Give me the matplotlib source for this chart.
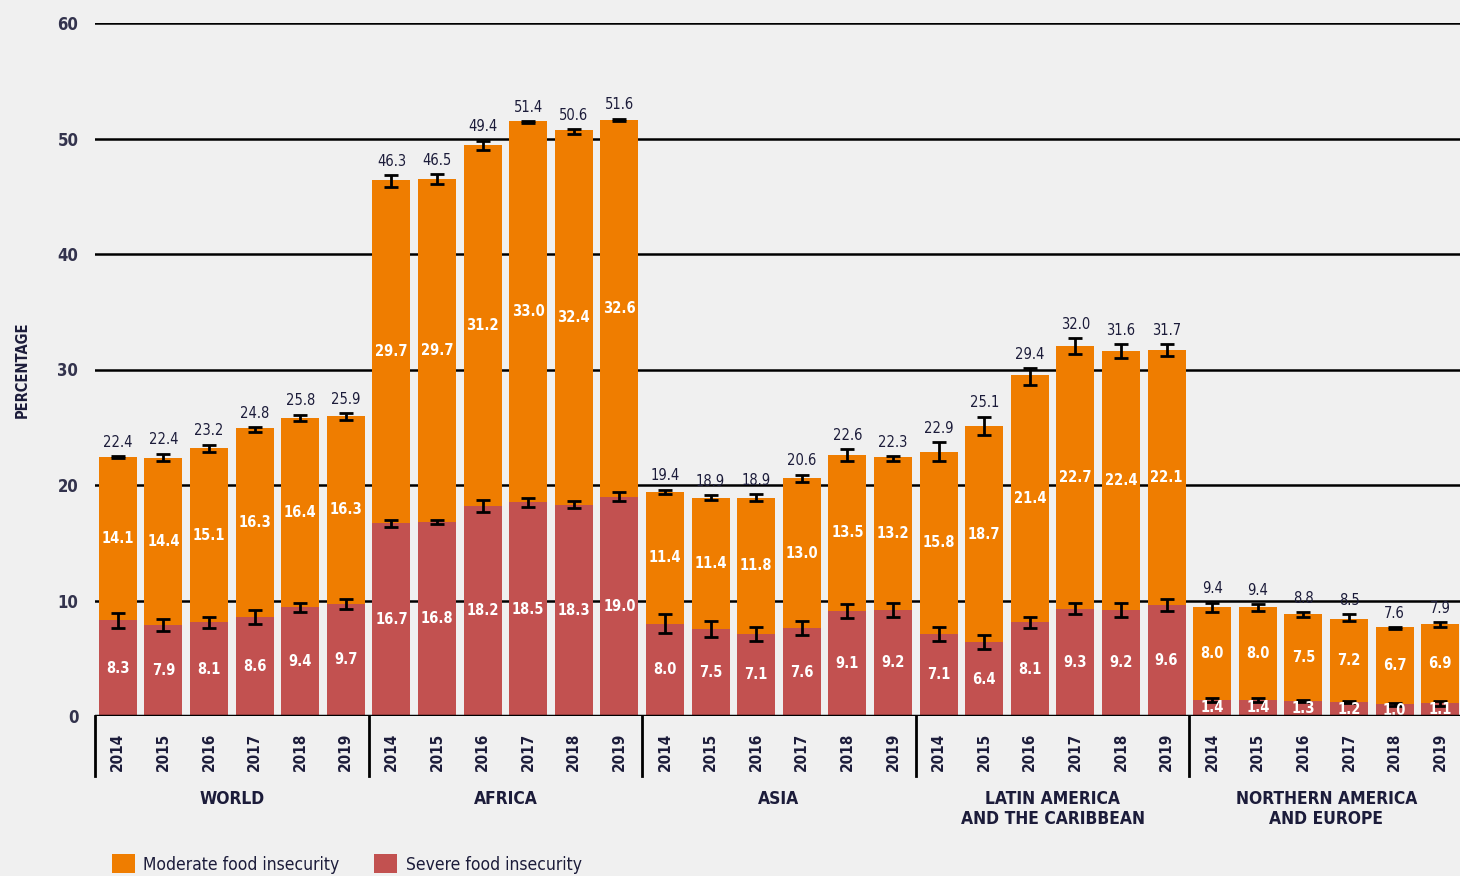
import numpy as np
import matplotlib
matplotlib.use("Agg")
import matplotlib.pyplot as plt
from matplotlib.patches import Patch

regions = ["WORLD", "AFRICA", "ASIA", "LATIN AMERICA\nAND THE CARIBBEAN",
           "NORTHERN AMERICA\nAND EUROPE"]
years = ["2014", "2015", "2016", "2017", "2018", "2019"]

# moderate + severe = total food insecurity
total = [22.4, 22.4, 23.2, 24.8, 25.8, 25.9,
         46.3, 46.5, 49.4, 51.4, 50.6, 51.6,
         19.4, 18.9, 18.9, 20.6, 22.6, 22.3,
         22.9, 25.1, 29.4, 32.0, 31.6, 31.7,
         9.4, 9.4, 8.8, 8.5, 7.6, 7.9]
moderate = [14.1, 14.4, 15.1, 16.3, 16.4, 16.3,
            29.7, 29.7, 31.2, 33.0, 32.4, 32.6,
            11.4, 11.4, 11.8, 13.0, 13.5, 13.2,
            15.8, 18.7, 21.4, 22.7, 22.4, 22.1,
            8.0, 8.0, 7.5, 7.2, 6.7, 6.9]
severe = [8.3, 7.9, 8.1, 8.6, 9.4, 9.7,
          16.7, 16.8, 18.2, 18.5, 18.3, 19.0,
          8.0, 7.5, 7.1, 7.6, 9.1, 9.2,
          7.1, 6.4, 8.1, 9.3, 9.2, 9.6,
          1.4, 1.4, 1.3, 1.2, 1.0, 1.1]
# half-width of the confidence intervals
total_err = [0.1, 0.3, 0.3, 0.2, 0.3, 0.3,
             0.5, 0.4, 0.4, 0.1, 0.2, 0.1,
             0.2, 0.2, 0.3, 0.3, 0.5, 0.2,
             0.8, 0.8, 0.7, 0.7, 0.6, 0.5,
             0.4, 0.3, 0.2, 0.3, 0.1, 0.2]
severe_err = [0.65, 0.5, 0.5, 0.6, 0.4, 0.4,
              0.3, 0.2, 0.5, 0.4, 0.3, 0.4,
              0.8, 0.7, 0.6, 0.6, 0.6, 0.6,
              0.6, 0.6, 0.5, 0.5, 0.6, 0.5,
              0.2, 0.2, 0.1, 0.1, 0.1, 0.2]

ORANGE = "#ef7d00"
RED = "#c25150"
BG = "#f0f0f0"
NAVY = "#1c1c3a"

plt.rcParams["font.family"] = ["DejaVu Sans"]
plt.rcParams["font.stretch"] = "condensed"

fig = plt.figure(figsize=(14.6, 8.76), dpi=100, facecolor=BG)
ax = fig.add_axes([95 / 1460, 1 - 716 / 876, (1463 - 95) / 1460, (716 - 23) / 876])
ax.set_facecolor(BG)

x = np.arange(len(total))
width = 0.83

ax.bar(x, severe, width, color=RED, zorder=2)
ax.bar(x, moderate, width, bottom=severe, color=ORANGE, zorder=2)
ax.errorbar(x, severe, yerr=severe_err, fmt="none", ecolor="black",
            elinewidth=2, capsize=5, capthick=2, zorder=3)
ax.errorbar(x, total, yerr=total_err, fmt="none", ecolor="black",
            elinewidth=2, capsize=5, capthick=2, zorder=3)

for i in range(len(total)):
    ax.text(x[i], severe[i] / 2, f"{severe[i]:.1f}", ha="center", va="center",
            color="white", fontsize=10.5, fontweight="bold", zorder=4)
    ax.text(x[i], severe[i] + moderate[i] / 2, f"{moderate[i]:.1f}", ha="center",
            va="center", color="white", fontsize=10.5, fontweight="bold", zorder=4)
    ax.annotate(f"{total[i]:.1f}", (x[i], total[i] + total_err[i]),
                xytext=(0, 10), textcoords="offset points", ha="center",
                va="center", color=NAVY, fontsize=10.5, zorder=4)

ax.set_ylim(0, 60)
ax.set_xlim(-0.5, len(total) - 0.5)
ax.set_yticks(range(0, 61, 10))
ax.yaxis.grid(True, color="black", linewidth=1.8, zorder=0)
ax.set_axisbelow(True)
ax.axhline(0, color="black", linewidth=2.5, zorder=5)
for s in ax.spines.values():
    s.set_visible(False)
ax.tick_params(axis="y", length=0, pad=12, labelsize=12, labelcolor="#33334d")
for lbl in ax.get_yticklabels():
    lbl.set_fontweight("bold")

ax.set_xticks(x)
ax.set_xticklabels(years * len(regions), rotation=90, fontsize=11,
                   fontweight="bold", color=NAVY)
ax.tick_params(axis="x", length=0, pad=12)

ax.set_ylabel("PERCENTAGE", fontsize=10.5, fontweight="bold", color=NAVY, labelpad=20)

# group separators and region names
trans = ax.get_xaxis_transform()
for g in range(len(regions) + 1):
    xs = g * len(years) - 0.5
    ax.plot([xs, xs], [0, -0.086], transform=trans, color="black",
            linewidth=2, clip_on=False, zorder=5)
for g, name in enumerate(regions):
    xc = g * len(years) + (len(years) - 1) / 2
    ax.text(xc, -0.107, name, transform=trans, ha="center", va="top",
            fontsize=12.5, fontweight="bold", color=NAVY, linespacing=1.1)

handles = [Patch(facecolor=ORANGE), Patch(facecolor=RED)]
fig.legend(handles, ["Moderate food insecurity", "Severe food insecurity"],
           loc="center left", bbox_to_anchor=(100 / 1460, 1 - 864 / 876), ncol=2,
           frameon=False, fontsize=12.5, handlelength=1.3, handleheight=1.3,
           handletextpad=0.5, columnspacing=2.0, labelcolor=NAVY,
           borderpad=0.2)

fig.savefig("out.png", dpi=100, facecolor=BG)
